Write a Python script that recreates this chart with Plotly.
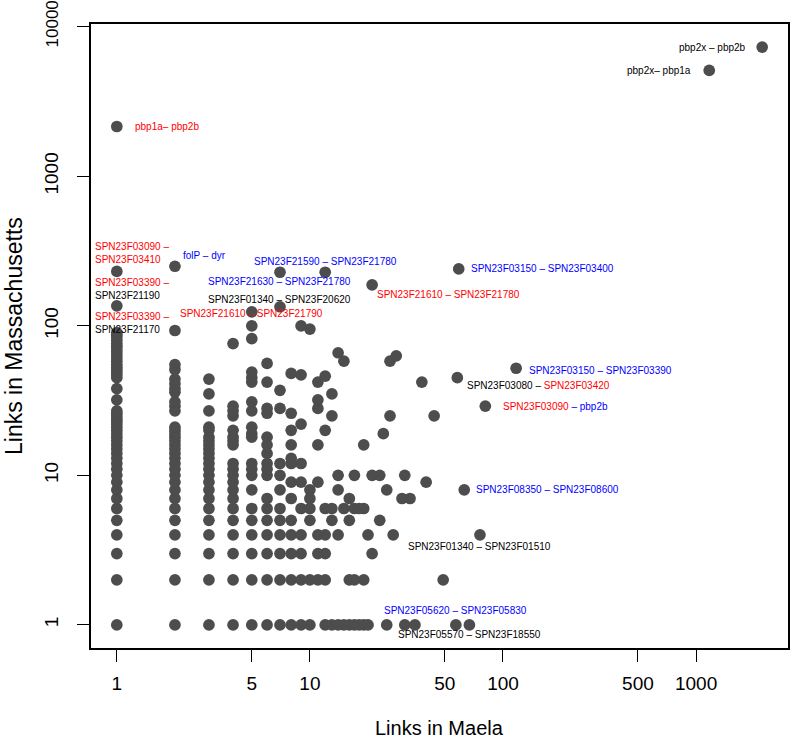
import numpy as np
import plotly.graph_objects as go

# ---------------- data (links in Maela vs links in Massachusetts) ----------------
mass_at_maela_1 = list(range(1, 28)) + [32, 38, 45, 47, 49, 51, 53, 55, 58, 61, 64, 67, 70, 73, 76, 80, 84, 87]
mass_at_maela_2 = list(range(1, 22)) + [27, 29, 31, 36, 38, 41, 44, 51, 55, 93]
mass_at_maela_3 = list(range(1, 19)) + [20, 21, 27, 35, 44]
mass_at_maela_4 = list(range(1, 13)) + [16, 17, 18, 20, 25, 27, 29, 76]
mass_at_maela_5 = [1, 2, 3, 4, 5, 6, 8, 10, 11, 12, 18, 19, 21, 27, 31, 42, 45, 49, 82, 100]
mass_at_maela_6 = [1, 2, 3, 4, 5, 6, 7, 10, 11, 12, 14, 16, 18, 26, 28, 42, 56]
mass_at_maela_7 = [1, 2, 3, 4, 5, 6, 8, 10, 12, 28, 37]
mass_at_maela_8 = [1, 2, 3, 4, 5, 7, 9, 12, 13, 16, 20, 26, 48]
mass_at_maela_9 = [1, 2, 3, 4, 6, 9, 12, 22, 47, 100]
mass_at_maela_10 = [1, 2, 5, 6, 7, 8, 95]
mass_at_maela_11 = [2, 3, 4, 9, 16, 28, 32, 42]
mass_at_maela_12 = [1, 2, 3, 4, 6, 20, 46]
mass_at_maela_13 = [1, 5, 6, 25, 35]
mass_at_maela_14 = [1, 4, 8, 10, 66]

other_maela = [15, 15, 15, 16, 16, 16, 16, 17, 17, 17, 17, 18, 18, 19, 19, 19, 19,
               20, 20, 21, 21, 23, 23, 24, 25, 25, 26, 26, 27, 28, 30, 31, 31, 33,
               35, 38, 40, 44, 49]
other_mass = [1, 6, 58, 1, 2, 5, 7, 1, 2, 6, 10, 1, 6, 1, 2, 6, 16,
              1, 4, 3, 10, 5, 10, 19, 1, 8, 25, 58, 4, 63, 7, 1, 10, 7,
              1, 42, 9, 25, 2]

# labelled gene pairs
labelled_maela = [2200, 1170, 1, 1, 2, 12, 7, 1, 7, 1, 5, 59, 21, 117, 58, 81, 63, 76, 57, 67]
labelled_mass = [7300, 5100, 2150, 231, 250, 228, 228, 136, 134, 90, 124, 240, 188, 52, 45, 29, 8, 4, 1, 1]

x_tick_vals = [1, 5, 10, 50, 100, 500, 1000]
y_tick_vals = [1, 10, 100, 1000, 10000]

R, B, K = "red", "blue", "black"


def col(t, c):
    return f'<span style="color:{c}">{t}</span>'


labelled_text = [
    col("pbp2x – pbp2b", K),
    col("pbp2x– pbp1a", K),
    col("pbp1a– pbp2b", R),
    col("SPN23F03090 –", R) + "<br>" + col("SPN23F03410", R),
    col("folP – dyr", B),
    col("SPN23F21590 – SPN23F21780", B),
    col("SPN23F21630 – SPN23F21780", B),
    col("SPN23F03390 –", R) + "<br>" + col("SPN23F21190", K),
    col("SPN23F01340 – SPN23F20620", K),
    col("SPN23F03390 –", R) + "<br>" + col("SPN23F21170", K),
    col("SPN23F21610 – SPN23F21790", R),
    col("SPN23F03150 – SPN23F03400", B),
    col("SPN23F21610 – SPN23F21780", R),
    col("SPN23F03150 – SPN23F03390", B),
    col("SPN23F03080 – ", K) + col("SPN23F03420", R),
    col("SPN23F03090", R) + col(" – pbp2b", B),
    col("SPN23F08350 – SPN23F08600", B),
    col("SPN23F01340 – SPN23F01510", K),
    col("SPN23F05620 – SPN23F05830", B),
    col("SPN23F05570 – SPN23F18550", K),
]

# label placement (pixel offsets from the point, anchor)
LABEL_PLACE = [
    (-14, 0, "right"), (-16, 0, "right"), (16, 0, "left"), (-24, 18.7, "left"),
    (6, 10.7, "left"), (0, 11, "center"), (0, -9, "center"), (-24, 16.8, "left"),
    (0, 7.3, "center"), (-24, 10, "left"), (0, -2, "center"), (10.7, 0, "left"),
    (3.3, -9.7, "left"), (11.3, -2.7, "left"), (7.7, -8, "left"), (15.6, 0, "left"),
    (9.3, 0, "left"), (0, -11.7, "center"), (0, 14, "center"), (0, -10, "center"),
]

# ---------------- assemble points ----------------
cols = [mass_at_maela_1, mass_at_maela_2, mass_at_maela_3, mass_at_maela_4, mass_at_maela_5,
        mass_at_maela_6, mass_at_maela_7, mass_at_maela_8, mass_at_maela_9, mass_at_maela_10,
        mass_at_maela_11, mass_at_maela_12, mass_at_maela_13, mass_at_maela_14]
xs, ys = [], []
for i, c in enumerate(cols):
    xs += [i + 1] * len(c)
    ys += c
xs += other_maela + labelled_maela
ys += other_mass + labelled_mass

FONT = "Liberation Sans, Arial, Helvetica, sans-serif"

fig = go.Figure()
fig.add_trace(go.Scatter(
    x=xs, y=ys, mode="markers",
    marker=dict(size=11.7, color="#4d4d4d", line=dict(width=0)),
    hoverinfo="x+y", showlegend=False,
))

# R-style 4% range extension on log scale
lx = np.log10([min(xs), max(xs)])
ly = np.log10([min(ys), max(ys)])
ex = 0.04 * (lx[1] - lx[0])
ey = 0.04 * (ly[1] - ly[0])

axis_common = dict(
    type="log", showgrid=False, zeroline=False, automargin=False,
    showline=True, linecolor="black", linewidth=1.5, mirror=True,
    ticks="outside", ticklen=12, tickwidth=1.3, tickcolor="black",
    ticklabeloverflow="allow",
)

y_tick_text = [str(v) for v in y_tick_vals]
# the top label sits against the window edge: render it slightly smaller so it fits
y_tick_text[-1] = '<span style="font-size:17px">' + y_tick_text[-1] + "</span>"

fig.update_xaxes(
    range=[lx[0] - ex, lx[1] + ex],
    tickvals=x_tick_vals,
    ticktext=[str(v) for v in x_tick_vals],
    ticklabelstandoff=5,
    tickfont=dict(family=FONT, size=19, color="black"),
    **axis_common,
)
fig.update_yaxes(
    range=[ly[0] - ey, ly[1] + ey],
    tickvals=y_tick_vals,
    ticktext=y_tick_text,
    tickangle=-90,
    ticklabelstandoff=12,
    tickfont=dict(family=FONT, size=19, color="black"),
    **axis_common,
)

annotations = []
for xv, yv, t, (dx, dy, anc) in zip(labelled_maela, labelled_mass, labelled_text, LABEL_PLACE):
    annotations.append(dict(
        x=np.log10(xv), y=np.log10(yv), xref="x", yref="y",
        text=t, showarrow=False, xanchor=anc, yanchor="middle", align="left",
        xshift=dx, yshift=dy, font=dict(family=FONT, size=10, color="black"),
    ))

PLOT_W, PLOT_H = 697, 624
annotations.append(dict(
    x=0.5, y=-(728 - 648) / PLOT_H, xref="paper", yref="paper",
    text="Links in Maela", showarrow=False, xanchor="center", yanchor="middle",
    font=dict(family=FONT, size=20, color="black"),
))
annotations.append(dict(
    x=-(91 - 14) / PLOT_W, y=0.5, xref="paper", yref="paper",
    text="Links in Massachusetts", showarrow=False, xanchor="center", yanchor="middle",
    textangle=-90, font=dict(family=FONT, size=23, color="black"),
))

fig.update_layout(
    width=790, height=741,
    margin=dict(l=91, r=2, t=24, b=93),
    paper_bgcolor="white", plot_bgcolor="white",
    annotations=annotations,
    font=dict(family=FONT),
)

# remove the default page margin so the figure sits at the window origin
fig.write_html(
    "out.html",
    config={"displayModeBar": False},
    post_script="document.body.style.margin='0';",
)
